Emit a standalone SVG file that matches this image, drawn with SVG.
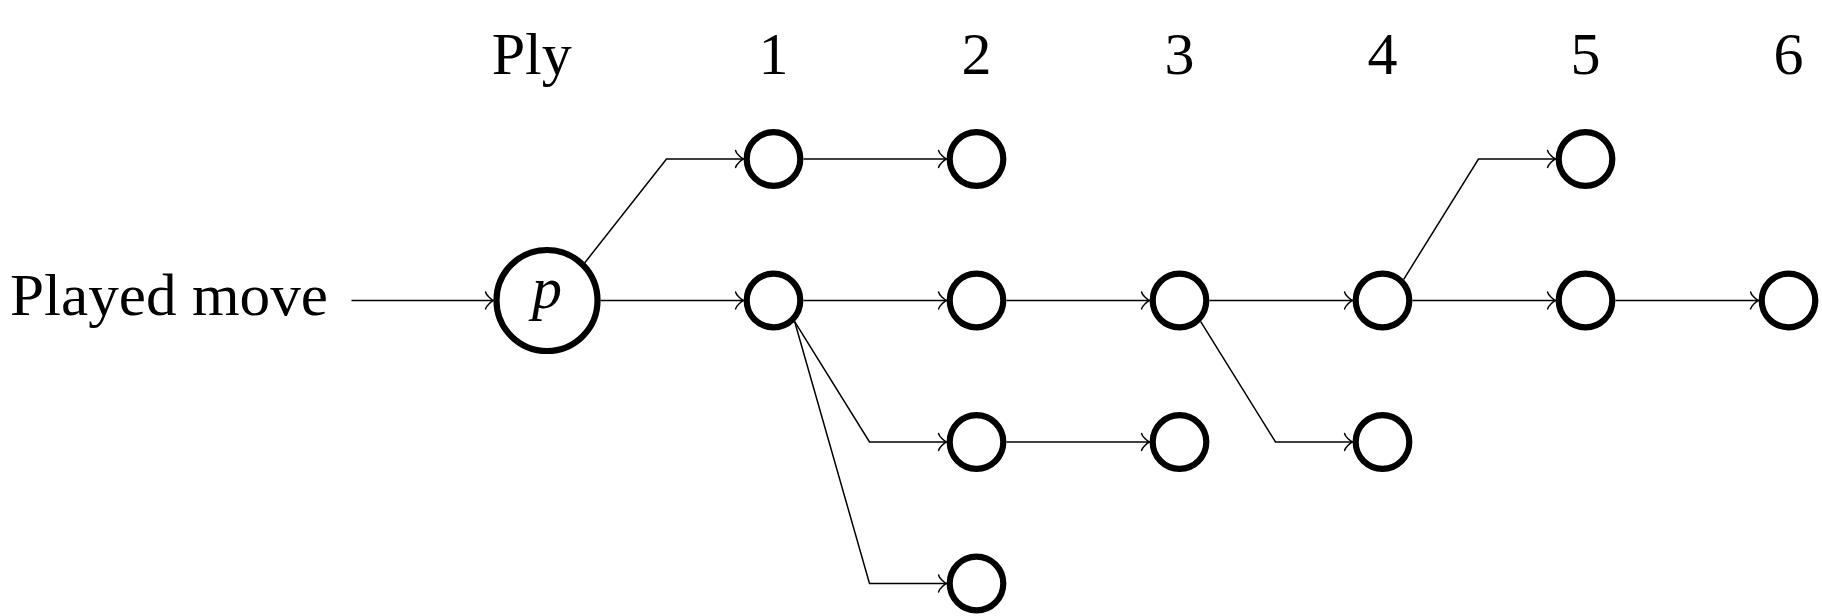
<svg xmlns="http://www.w3.org/2000/svg" width="1822" height="616" viewBox="0 0 1822 616">
<defs>
<style>
.lbl{font-family:"Liberation Serif","Times New Roman",serif;font-size:60px;fill:#000}
.num{text-anchor:middle}
.node{fill:#fff;stroke:#000;stroke-width:6.2}
.edge{fill:none;stroke:#000;stroke-width:1.5;stroke-linejoin:miter;marker-end:url(#to)}
</style>
<marker id="to" markerUnits="userSpaceOnUse" orient="auto" refX="0" refY="0" markerWidth="20" markerHeight="20" viewBox="-10 -10 20 20" overflow="visible">
<path d="M -7.9,8.4 C -7.4,5.25 -1.6,0.5 0,0 C -1.6,-0.5 -7.4,-5.25 -7.9,-8.4" fill="none" stroke="#000" stroke-width="1.5" stroke-linecap="round" stroke-linejoin="round"/>
</marker>
</defs>
<rect width="1822" height="616" fill="#fff"/>
<g id="headers">
<text class="lbl" x="491.7" y="74">Ply</text>
<text class="lbl num" x="773.5" y="74">1</text>
<text class="lbl num" x="976.5" y="74">2</text>
<text class="lbl num" x="1179.5" y="74">3</text>
<text class="lbl num" x="1382.5" y="74">4</text>
<text class="lbl num" x="1585.5" y="74">5</text>
<text class="lbl num" x="1788.5" y="74">6</text>
</g>
<g id="played-move"><text class="lbl" x="10" y="315" textLength="318" lengthAdjust="spacingAndGlyphs">Played move</text></g>
<g id="connectors">
<path class="edge" d="M351.5,300.5 H493.5"/>
<path class="edge" d="M600.5,300.5 H743.5"/>
<path class="edge" d="M584.8,262.7 L666.5,159 H743.5"/>
<path class="edge" d="M803.5,159 H946.5"/>
<path class="edge" d="M803.5,300.5 H946.5"/>
<path class="edge" d="M794.7,321.7 L869.5,442 H946.5"/>
<path class="edge" d="M794.7,321.7 L869.5,583.5 H946.5"/>
<path class="edge" d="M1006.5,300.5 H1149.5"/>
<path class="edge" d="M1006.5,442 H1149.5"/>
<path class="edge" d="M1209.5,300.5 H1352.5"/>
<path class="edge" d="M1200.7,321.7 L1275.5,442 H1352.5"/>
<path class="edge" d="M1412.5,300.5 H1555.5"/>
<path class="edge" d="M1403.7,279.3 L1478.5,159 H1555.5"/>
<path class="edge" d="M1615.5,300.5 H1758.5"/>
</g>
<g id="node-p"><circle class="node" cx="547" cy="300.5" r="50.5"/><text class="lbl" x="547" y="308" text-anchor="middle" font-style="italic">p</text></g>
<g id="n1a"><circle class="node" cx="773.5" cy="159" r="26.8"/></g>
<g id="n1b"><circle class="node" cx="773.5" cy="300.5" r="26.8"/></g>
<g id="n2a"><circle class="node" cx="976.5" cy="159" r="26.8"/></g>
<g id="n2b"><circle class="node" cx="976.5" cy="300.5" r="26.8"/></g>
<g id="n2c"><circle class="node" cx="976.5" cy="442" r="26.8"/></g>
<g id="n2d"><circle class="node" cx="976.5" cy="583.5" r="26.8"/></g>
<g id="n3b"><circle class="node" cx="1179.5" cy="300.5" r="26.8"/></g>
<g id="n3c"><circle class="node" cx="1179.5" cy="442" r="26.8"/></g>
<g id="n4b"><circle class="node" cx="1382.5" cy="300.5" r="26.8"/></g>
<g id="n4c"><circle class="node" cx="1382.5" cy="442" r="26.8"/></g>
<g id="n5a"><circle class="node" cx="1585.5" cy="159" r="26.8"/></g>
<g id="n5b"><circle class="node" cx="1585.5" cy="300.5" r="26.8"/></g>
<g id="n6b"><circle class="node" cx="1788.5" cy="300.5" r="26.8"/></g>
</svg>
